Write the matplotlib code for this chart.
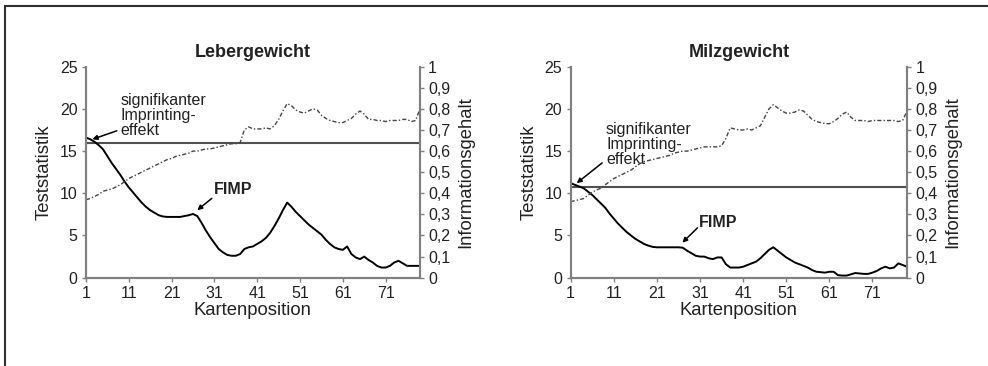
import matplotlib
matplotlib.use("Agg")
import matplotlib.pyplot as plt
from matplotlib.lines import Line2D
from matplotlib.ticker import FuncFormatter

plt.rcParams['font.family'] = ['Liberation Sans', 'DejaVu Sans']

# Kartenpositionen 1..79
pos = list(range(1, 80))

leber_test = [16.6, 16.4, 16.1, 15.7, 15.2, 14.4, 13.6, 12.9, 12.2, 11.4,
              10.7, 10.1, 9.5, 8.9, 8.4, 8.0, 7.7, 7.4, 7.25, 7.2,
              7.2, 7.2, 7.2, 7.3, 7.4, 7.55, 7.3, 6.5, 5.6, 4.8,
              4.1, 3.4, 3.0, 2.7, 2.6, 2.6, 2.8, 3.4, 3.6, 3.7,
              4.0, 4.3, 4.7, 5.3, 6.1, 7.0, 8.0, 8.9, 8.4, 7.8,
              7.3, 6.8, 6.3, 5.9, 5.5, 5.1, 4.5, 4.0, 3.6, 3.4,
              3.3, 3.7, 2.8, 2.4, 2.2, 2.5, 2.1, 1.8, 1.4, 1.2,
              1.2, 1.4, 1.8, 2.0, 1.7, 1.4, 1.4, 1.4, 1.4]
leber_info = [0.37, 0.375, 0.385, 0.395, 0.41, 0.415, 0.42, 0.43, 0.44, 0.455,
              0.47, 0.48, 0.49, 0.5, 0.51, 0.52, 0.53, 0.54, 0.55, 0.56,
              0.565, 0.575, 0.58, 0.585, 0.59, 0.6, 0.6, 0.605, 0.61, 0.61,
              0.615, 0.62, 0.625, 0.63, 0.635, 0.635, 0.64, 0.7, 0.715, 0.705,
              0.705, 0.705, 0.71, 0.705, 0.72, 0.75, 0.79, 0.825, 0.815, 0.795,
              0.785, 0.78, 0.79, 0.8, 0.795, 0.77, 0.755, 0.745, 0.74, 0.735,
              0.735, 0.745, 0.755, 0.775, 0.79, 0.775, 0.75, 0.75, 0.745, 0.745,
              0.74, 0.745, 0.745, 0.745, 0.75, 0.75, 0.74, 0.745, 0.8]
leber_schwelle = 15.9

milz_test = [11.2, 11.0, 10.8, 10.6, 10.2, 9.8, 9.3, 8.8, 8.3, 7.6,
             7.0, 6.4, 5.9, 5.4, 5.0, 4.6, 4.3, 4.0, 3.8, 3.65,
             3.6, 3.6, 3.6, 3.6, 3.6, 3.6, 3.55, 3.2, 2.9, 2.6,
             2.5, 2.5, 2.3, 2.2, 2.4, 2.4, 1.6, 1.2, 1.2, 1.2,
             1.3, 1.5, 1.7, 1.9, 2.3, 2.8, 3.3, 3.6, 3.2, 2.8,
             2.4, 2.1, 1.8, 1.6, 1.4, 1.2, 0.9, 0.7, 0.65, 0.6,
             0.7, 0.7, 0.3, 0.25, 0.25, 0.4, 0.55, 0.5, 0.45, 0.45,
             0.6, 0.8, 1.1, 1.3, 1.1, 1.2, 1.7, 1.5, 1.3]
milz_info = [0.36, 0.365, 0.37, 0.375, 0.39, 0.405, 0.415, 0.425, 0.44, 0.455,
             0.47, 0.48, 0.49, 0.5, 0.51, 0.525, 0.54, 0.55, 0.555, 0.56,
             0.565, 0.57, 0.575, 0.58, 0.59, 0.595, 0.6, 0.6, 0.605, 0.61,
             0.615, 0.62, 0.62, 0.62, 0.62, 0.625, 0.66, 0.71, 0.705, 0.7,
             0.7, 0.705, 0.7, 0.71, 0.72, 0.76, 0.8, 0.82, 0.805, 0.79,
             0.78, 0.78, 0.785, 0.795, 0.79, 0.77, 0.75, 0.74, 0.735, 0.73,
             0.73, 0.74, 0.755, 0.775, 0.785, 0.76, 0.745, 0.745, 0.745, 0.74,
             0.745, 0.745, 0.745, 0.745, 0.745, 0.745, 0.74, 0.745, 0.79]
milz_schwelle = 10.8

xticks = [1, 11, 21, 31, 41, 51, 61, 71]
yticks = [0, 5, 10, 15, 20, 25]
y2ticks = [0, 0.1, 0.2, 0.3, 0.4, 0.5, 0.6, 0.7, 0.8, 0.9, 1]

spine_col = '#808080'
txt_col = '#222222'


def komma(v, p):
    if v == 0 or v == 1:
        return str(int(v))
    return ('%.1f' % v).replace('.', ',')


def panel(rect, title, test, info, schwelle, sig_text, sig_arrow, fimp_text, fimp_arrow):
    ax = fig.add_axes(rect)
    ax2 = ax.twinx()
    ax.plot(pos, test, color='black', lw=1.4, zorder=3)
    ax.axhline(schwelle, color='#505050', lw=1.5, zorder=2)
    ax2.plot(pos, info, color='#444444', lw=1.0, linestyle=(0, (3, 1.5, 1, 1.5)))

    ax.set_xlim(1, 79)
    ax.set_ylim(0, 25)
    ax2.set_ylim(0, 1)
    ax.set_xticks(xticks)
    ax.set_yticks(yticks)
    ax2.set_yticks(y2ticks)
    ax2.yaxis.set_major_formatter(FuncFormatter(komma))

    for a in (ax, ax2):
        a.spines['top'].set_visible(False)
        for s in ('left', 'right', 'bottom'):
            a.spines[s].set_color(spine_col)
            a.spines[s].set_linewidth(1.5)
        a.tick_params(colors=spine_col, labelcolor=txt_col, labelsize=11.5,
                      length=3, width=1, pad=3)

    ax.set_title(title, fontsize=13, fontweight='bold', color=txt_col, pad=7)
    ax.set_xlabel('Kartenposition', fontsize=13.3, color=txt_col, labelpad=1)
    ax.set_ylabel('Teststatistik', fontsize=13.3, color=txt_col, labelpad=5)
    ax2.set_ylabel('Informationsgehalt', fontsize=13.3, color=txt_col, labelpad=5)

    ax.text(sig_text[0], sig_text[1], 'signifikanter\nImprinting-\neffekt',
            fontsize=11.5, color=txt_col, va='top', ha='left', linespacing=1.0, zorder=4)
    ax.annotate('', xy=sig_arrow[2:], xytext=sig_arrow[:2],
                arrowprops=dict(arrowstyle='-|>', color='black', lw=1.1,
                                mutation_scale=7, shrinkA=0, shrinkB=0))
    ax.text(fimp_text[0], fimp_text[1], 'FIMP', fontsize=11.5, fontweight='bold',
            color=txt_col, va='center', ha='left', zorder=4)
    ax.annotate('', xy=fimp_arrow[2:], xytext=fimp_arrow[:2],
                arrowprops=dict(arrowstyle='-|>', color='black', lw=1.1,
                                mutation_scale=7, shrinkA=0, shrinkB=0))
    return ax


fig = plt.figure(figsize=(9.88, 3.66), dpi=100)

panel([0.087, 0.2413, 0.338, 0.5765], 'Lebergewicht', leber_test, leber_info,
      leber_schwelle, (9.0, 21.9), (8.2, 17.4, 2.5, 16.4), (30.8, 10.4), (30.4, 9.4, 27.0, 8.0))
panel([0.5776, 0.2413, 0.3404, 0.5765], 'Milzgewicht', milz_test, milz_info,
      milz_schwelle, (9.2, 18.4), (8.3, 13.6, 2.4, 11.2), (30.8, 6.5), (30.4, 5.9, 26.9, 4.15))

# Rahmen oben und links
fig.add_artist(Line2D([5 / 988, 1], [1 - 6 / 366, 1 - 6 / 366], color='#303030', lw=1.5))
fig.add_artist(Line2D([5 / 988, 5 / 988], [0, 1 - 6 / 366], color='#303030', lw=1.5))

plt.savefig('out.png', dpi=100)
